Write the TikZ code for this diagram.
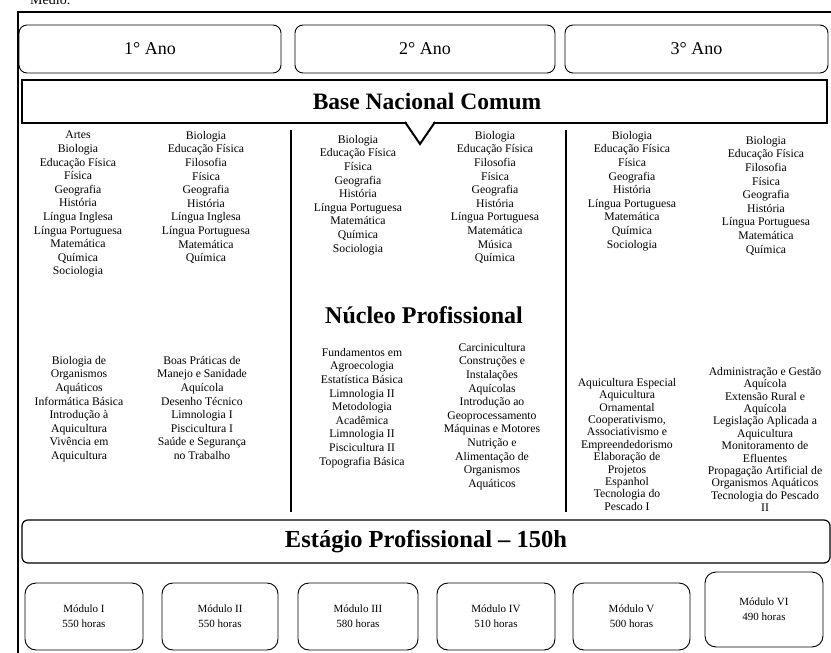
\documentclass[tikz,border=0pt]{standalone}
\usepackage{fontspec}
\setmainfont{Liberation Serif}
\usetikzlibrary{positioning}

\begin{document}
\begin{tikzpicture}[x=1pt, y=-1pt,
  yr/.style={draw, rounded corners=8pt, line width=0.9pt, minimum width=262pt,
             minimum height=48pt, font=\fontsize{18}{20}\selectfont},
  band/.style={draw, minimum height=43pt, font=\fontsize{24.5}{26}\selectfont\bfseries},
  subj/.style={align=center, anchor=north, inner sep=0pt, font=\fontsize{11.7}{13.6}\selectfont},
  subjt/.style={subj, font=\fontsize{11.7}{12.4}\selectfont},
  modb/.style={draw, rounded corners=11pt, line width=0.9pt, minimum width=118pt,
               minimum height=67pt, align=center, font=\fontsize{11}{15}\selectfont},
  sep/.style={line width=1.1pt},
  chev/.style={line width=2pt, line join=miter}]
\useasboundingbox (0,0) rectangle (831,653);
% caption remnant + outer frame
\node[anchor=base west, inner sep=0pt, font=\fontsize{14}{16}\selectfont] (cap) at (30,5) {Médio.};
\draw[line width=1.1pt] (18,12) rectangle (834,662);
% years
\node[yr] (a1) at (150,49) {1° Ano};
\node[yr, minimum width=260pt] (a2) at (425,49) {2° Ano};
\node[yr, minimum width=263pt] (a3) at (696.5,49) {3° Ano};
% base nacional comum
\node[band, line width=2.2pt, minimum width=805pt] (bnc) at (424.5,101.5) {};
\node[font=\fontsize{23.5}{26}\selectfont\bfseries] (bnct) at (427,101.5) {Base Nacional Comum};
\coordinate (arw) at (420,123);
\draw[white, line width=3pt] ([xshift=-13pt]arw) -- ([xshift=13pt]arw);
\draw[chev] ([xshift=-15pt,yshift=1pt]arw) -- ([yshift=-21pt]arw) -- ([xshift=15pt,yshift=1pt]arw);
% column separators
\draw[sep] (291,130) -- (291,512);
\draw[sep] (566,130) -- (566,512);
% subjects, base
\node[subj] (b1) at (78,131) {Artes\\Biologia\\Educação Física\\Física\\Geografia\\História\\Língua Inglesa\\Língua Portuguesa\\Matemática\\Química\\Sociologia};
\node[subj] (b2) at (206,131) {Biologia\\Educação Física\\Filosofia\\Física\\Geografia\\História\\Língua Inglesa\\Língua Portuguesa\\Matemática\\Química};
\node[subj] (b3) at (358,135) {Biologia\\Educação Física\\Física\\Geografia\\História\\Língua Portuguesa\\Matemática\\Química\\Sociologia};
\node[subj] (b4) at (495,131) {Biologia\\Educação Física\\Filosofia\\Física\\Geografia\\História\\Língua Portuguesa\\Matemática\\Música\\Química};
\node[subj] (b5) at (632,131) {Biologia\\Educação Física\\Física\\Geografia\\História\\Língua Portuguesa\\Matemática\\Química\\Sociologia};
\node[subj] (b6) at (766,136) {Biologia\\Educação Física\\Filosofia\\Física\\Geografia\\História\\Língua Portuguesa\\Matemática\\Química};
% nucleo profissional
\node[font=\fontsize{24}{26}\selectfont\bfseries] (nuc) at (424,315) {Núcleo Profissional};
\node[subj] (n1) at (79,356) {Biologia de\\Organismos\\Aquáticos\\Informática Básica\\Introdução à\\Aquicultura\\Vivência em\\Aquicultura};
\node[subj] (n2) at (202,356) {Boas Práticas de\\Manejo e Sanidade\\Aquícola\\Desenho Técnico\\Limnologia I\\Piscicultura I\\Saúde e Segurança\\no Trabalho};
\node[subj] (n3) at (362,348) {Fundamentos em\\Agroecologia\\Estatística Básica\\Limnologia II\\Metodologia\\Acadêmica\\Limnologia II\\Piscicultura II\\Topografia Básica};
\node[subj] (n4) at (492,343) {Carcinicultura\\Construções e\\Instalações\\Aquícolas\\Introdução ao\\Geoprocessamento\\Máquinas e Motores\\Nutrição e\\Alimentação de\\Organismos\\Aquáticos};
\node[subjt] (n5) at (627,378) {Aquicultura Especial\\Aquicultura\\Ornamental\\Cooperativismo,\\Associativismo e\\Empreendedorismo\\Elaboração de\\Projetos\\Espanhol\\Tecnologia do\\Pescado I};
\node[subjt] (n6) at (765,367) {Administração e Gestão\\Aquícola\\Extensão Rural e\\Aquícola\\Legislação Aplicada a\\Aquicultura\\Monitoramento de\\Efluentes\\Propagação Artificial de\\Organismos Aquáticos\\Tecnologia do Pescado\\II};
% estagio + modules
\node[band, rounded corners=6pt, line width=1.2pt, minimum width=808pt] (est) at (426,541.5) {Estágio Profissional – 150h};
\node[modb] (m1) at (84,616.5) {Módulo I\\550 horas};
\node[modb, minimum width=116pt] (m2) at (220,616.5) {Módulo II\\550 horas};
\node[modb, minimum width=120pt] (m3) at (358,616.5) {Módulo III\\580 horas};
\node[modb] (m4) at (496,616.5) {Módulo IV\\510 horas};
\node[modb, minimum width=117pt] (m5) at (631.5,616.5) {Módulo V\\500 horas};
\node[modb, minimum height=75pt] (m6) at (764,609.5) {Módulo VI\\490 horas};
\end{tikzpicture}
\end{document}
